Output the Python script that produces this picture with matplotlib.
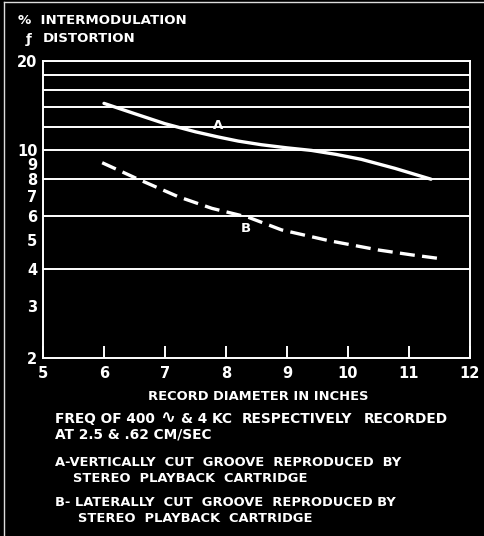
import numpy as np
import matplotlib
matplotlib.use("Agg")
import matplotlib.pyplot as plt
from matplotlib.lines import Line2D

# values
diam_a = [6.0, 6.5, 7.0, 7.5, 7.87, 8.2, 8.58, 9.0, 9.4, 9.8, 10.22, 10.77, 11.36]
dist_a = [14.4, 13.3, 12.3, 11.55, 11.1, 10.75, 10.45, 10.2, 10.0, 9.7, 9.33, 8.7, 8.0]

diam_b = [5.97, 6.56, 7.22, 7.77, 8.37, 8.91, 9.68, 10.5, 11.04, 11.48]
dist_b = [9.09, 8.0, 6.98, 6.38, 5.95, 5.4, 4.97, 4.62, 4.45, 4.33]

grid_levels = [4, 6, 8, 10, 12, 14, 16, 18, 20]
y_ticks = [2, 3, 4, 5, 6, 7, 8, 9, 10, 20]
x_ticks = [5, 6, 7, 8, 9, 10, 11, 12]

plt.rcParams['font.family'] = ['DejaVu Sans']
fg = 'white'
bg = 'black'

fig = plt.figure(figsize=(4.85, 5.36), dpi=100, facecolor=bg)
ax = fig.add_axes([43/485, 1 - 358/536, (470 - 43)/485, (358 - 61)/536])
ax.set_facecolor(bg)

ax.set_yscale('log')
ax.set_xlim(5, 12)
ax.set_ylim(2, 20)

for lvl in grid_levels:
    ax.axhline(lvl, color=fg, lw=1.4, zorder=1)

ax.plot(diam_a, dist_a, color=fg, lw=2.4, solid_capstyle='round',
        solid_joinstyle='round', zorder=3)
ax.plot(diam_b, dist_b, color=fg, lw=2.4, linestyle=(0, (4.5, 2.2)), zorder=3)

ax.text(7.87, 12.15, 'A', color=fg, fontsize=9.5, fontweight='bold', ha='center', va='center')
ax.text(8.32, 5.47, 'B', color=fg, fontsize=9.5, fontweight='bold', ha='center', va='center')

for s in ax.spines.values():
    s.set_color(fg)
    s.set_linewidth(1.4)

ax.set_xticks(x_ticks)
ax.set_xticklabels([str(v) for v in x_ticks])
ax.set_yticks(y_ticks)
ax.set_yticklabels([str(v) for v in y_ticks])
ax.yaxis.set_minor_locator(matplotlib.ticker.NullLocator())
ax.tick_params(axis='x', direction='in', length=9, width=1.4, color=fg,
               labelcolor=fg, labelsize=10.5, pad=6)
ax.tick_params(axis='y', length=0, labelcolor=fg, labelsize=10.5, pad=4)
for lab in ax.get_xticklabels() + ax.get_yticklabels():
    lab.set_fontweight('bold')


def put(x, y, t, size=9.4):
    # x, y in pixels from the top-left corner
    fig.text(x/485, 1 - y/536, t, color=fg, fontsize=size, fontweight='bold',
             ha='left', va='center')


# y axis heading
put(18, 20, '%  INTERMODULATION', 9.6)
put(26, 40, 'ƒ', 9.6)
put(43, 38, 'DISTORTION', 9.6)

# notes under the chart
put(148, 397, 'RECORD DIAMETER IN INCHES')
put(55, 419, 'FREQ OF 400', 9.9)
put(160, 418, '\u223f', 13)
put(181, 419, '& 4 KC', 9.9)
put(242, 419, 'RESPECTIVELY', 9.9)
put(364, 419, 'RECORDED', 9.9)
put(55, 435, 'AT 2.5 & .62 CM/SEC', 9.9)
put(55, 462, 'A-VERTICALLY  CUT  GROOVE  REPRODUCED  BY')
put(73, 478, 'STEREO  PLAYBACK  CARTRIDGE')
put(55, 502, 'B- LATERALLY  CUT  GROOVE  REPRODUCED BY')
put(78, 518, 'STEREO  PLAYBACK  CARTRIDGE')

# thin frame remnants along the top and left edges
fig.add_artist(Line2D([4/485, 4/485], [0, 1 - 2/536], transform=fig.transFigure,
                      color='#dddddd', lw=1))
fig.add_artist(Line2D([4/485, 1], [1 - 2/536, 1 - 2/536], transform=fig.transFigure,
                      color='#dddddd', lw=1))

fig.savefig('out.png', dpi=100, facecolor=bg)
